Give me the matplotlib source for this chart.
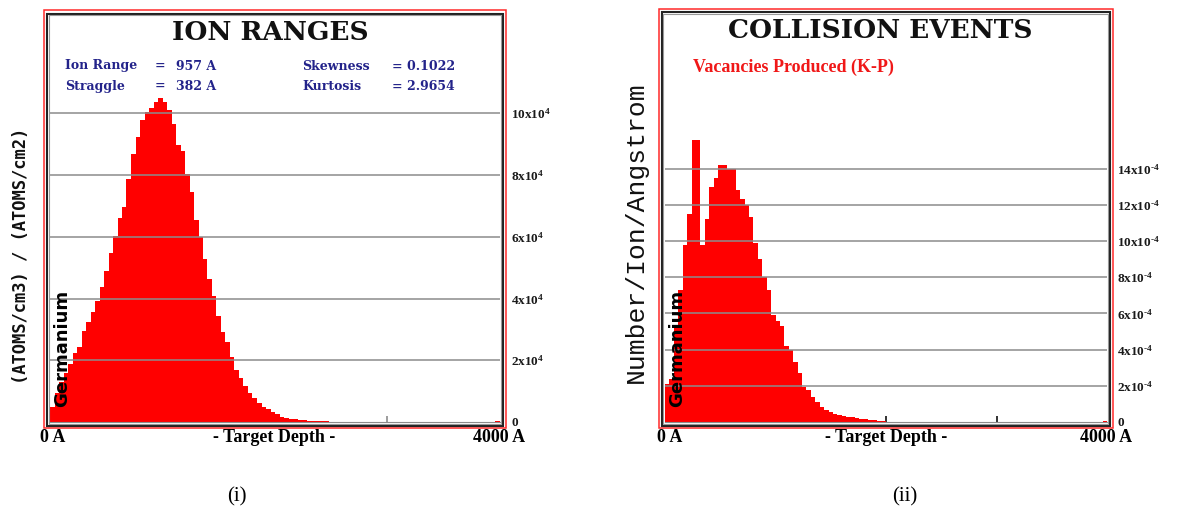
import matplotlib
matplotlib.use("Agg")
import matplotlib.pyplot as plt
from matplotlib.patches import Rectangle
import numpy as np

W, H = 1182, 513
BIN = 40  # Angstrom per histogram bin

# ion range histogram, (atoms/cm3)/(atoms/cm2) in units of 1e4, 40 A bins from 0 A
ion_vals = [0.47, 0.95, 1.31, 1.60, 1.87, 2.22, 2.44, 2.95, 3.23, 3.55,
            3.93, 4.38, 4.90, 5.47, 6.04, 6.61, 6.96, 7.88, 8.69, 9.23,
            9.77, 10.04, 10.18, 10.37, 10.48, 10.37, 10.12, 9.66, 8.96, 8.78,
            8.04, 7.45, 6.53, 5.98, 5.28, 4.63, 4.09, 3.44, 2.90, 2.58,
            2.09, 1.68, 1.44, 1.17, 0.95, 0.79, 0.63, 0.50, 0.41, 0.34,
            0.25, 0.17, 0.14, 0.10, 0.09, 0.06, 0.05, 0.04, 0.03, 0.03,
            0.02, 0.02]
ion_last = 0.03  # small count in the final bin (3960-4000 A)

# vacancies produced (K-P), number/ion/angstrom in units of 1e-4
vac_vals = [2.10, 2.40, 5.26, 7.30, 9.79, 11.5, 15.57, 15.57, 9.80, 11.2,
            13.0, 13.5, 14.2, 14.2, 14.0, 14.0, 12.8, 12.3, 12.0, 11.3,
            9.9, 9.0, 8.0, 7.3, 5.9, 5.6, 5.3, 4.2, 4.0, 3.3,
            2.7, 1.95, 1.75, 1.40, 1.10, 0.85, 0.65, 0.55, 0.45, 0.40,
            0.35, 0.28, 0.25, 0.20, 0.17, 0.15, 0.10, 0.09, 0.08, 0.03]
vac_last = 0.05

ion_ticks = [0, 2, 4, 6, 8, 10]
ion_ticklabels = ["0"] + [r"$\mathbf{%dx10^{4}}$" % v for v in ion_ticks[1:]]
vac_ticks = [0, 2, 4, 6, 8, 10, 12, 14]
vac_ticklabels = ["0"] + [r"$\mathbf{%dx10^{\text{-}4}}$" % v for v in vac_ticks[1:]]

stats_left = [("Ion Range", "=", "957 A"), ("Straggle", "=", "382 A")]
stats_right = [("Skewness", "= 0.1022"), ("Kurtosis", "= 2.9654")]

plt.rcParams["mathtext.fontset"] = "custom"
plt.rcParams["mathtext.rm"] = "Liberation Serif:bold"
plt.rcParams["mathtext.bf"] = "Liberation Serif:bold"

fig = plt.figure(figsize=(W / 100, H / 100), dpi=100)


def box(x0, y0, x1, y1):
    # pixel box (top-left origin) -> figure fraction rect
    return [x0 / W, 1 - y1 / H, (x1 - x0) / W, (y1 - y0) / H]


def ftext(x, y, s, **kw):
    fig.text(x / W, 1 - y / H, s, **kw)


def frame(x0, y0, x1, y1, color, lw):
    fig.add_artist(Rectangle((x0 / W, 1 - y1 / H), (x1 - x0) / W, (y1 - y0) / H,
                             transform=fig.transFigure, fill=False,
                             edgecolor=color, lw=lw, zorder=5))


def panel(rect, vals, last, ymax, ticks, ticklabels, tickcol, pad):
    ax = fig.add_axes(rect)
    edges = np.arange(len(vals)) * BIN
    ax.bar(edges, vals, width=BIN, align="edge", color="#ff0000", lw=0, zorder=2)
    ax.bar([4000 - BIN], [last], width=BIN, align="edge", color="#ff0000", lw=0, zorder=2)
    ax.hlines(ticks[1:], 0, 4000, colors="#8c8c8c", lw=1.1, zorder=3)
    ax.set_xlim(0, 4000)
    ax.set_ylim(0, ymax)
    for s in ["top", "left", "right"]:
        ax.spines[s].set_visible(False)
    ax.spines["bottom"].set_color("#8c8c8c")
    ax.set_xticks([1000, 2000, 3000])
    ax.tick_params(axis="x", direction="in", length=4, width=1.2,
                   color=tickcol, labelbottom=False)
    ax.yaxis.tick_right()
    ax.set_yticks(ticks)
    ax.set_yticklabels(ticklabels, fontsize=9.5, color="#1a1a1a",
                       family="Liberation Serif", weight="bold")
    ax.tick_params(axis="y", length=0, pad=pad)
    ax.set_facecolor("none")
    return ax


# ---- (i) ion ranges ----
panel(box(50, 14, 500, 422), ion_vals, ion_last, (422 - 14) / 30.87,
      ion_ticks, ion_ticklabels, "#8c8c8c", 8)
frame(43.5, 10, 506.5, 428, "#ff2a2a", 1.1)
frame(47, 13.5, 503, 425.5, "#222222", 1.5)
frame(48.8, 15.3, 501.2, 423.7, "#999999", 0.8)
ftext(270, 32, "ION RANGES", family="DejaVu Serif", weight="bold", fontsize=19,
      ha="center", va="center", color="#111111")
for row, (a, b, c) in enumerate(stats_left):
    y = 66 + row * 20.5
    ftext(65, y, a, family="DejaVu Serif", weight="bold", fontsize=9, color="#23238a", va="center")
    ftext(155, y, b, family="DejaVu Serif", weight="bold", fontsize=9, color="#23238a", va="center")
    ftext(176, y, c, family="DejaVu Serif", weight="bold", fontsize=9, color="#23238a", va="center")
for row, (a, b) in enumerate(stats_right):
    y = 66 + row * 20.5
    ftext(302, y, a, family="DejaVu Serif", weight="bold", fontsize=9, color="#23238a", va="center")
    ftext(392, y, b, family="DejaVu Serif", weight="bold", fontsize=9, color="#23238a", va="center")
ftext(62, 407, "Germanium", family="DejaVu Sans", weight="bold", fontsize=13,
      rotation=90, ha="center", va="bottom", color="black")
ftext(21.5, 256, "(ATOMS/cm3) / (ATOMS/cm2)", family="DejaVu Sans Mono", weight="bold",
      fontsize=12.3, rotation=90, ha="center", va="center", color="#111111")
ftext(40, 438, "0 A", family="Liberation Serif", weight="bold", fontsize=13, va="center")
ftext(274, 438, "- Target Depth -", family="Liberation Serif", weight="bold", fontsize=13,
      ha="center", va="center")
ftext(525, 438, "4000 A", family="Liberation Serif", weight="bold", fontsize=13,
      ha="right", va="center")
ftext(237, 497, "(i)", family="Liberation Serif", fontsize=15, ha="center", va="center")

# ---- (ii) collision events ----
panel(box(665, 12, 1107, 422), vac_vals, vac_last, (422 - 12) / 18.1,
      vac_ticks, vac_ticklabels, "#111111", 7.5)
frame(658.5, 9, 1112.5, 428, "#ff2a2a", 1.1)
frame(661.5, 12, 1109.5, 425.5, "#222222", 1.5)
frame(663.3, 13.8, 1107.7, 423.7, "#999999", 0.8)
ftext(880, 30, "COLLISION EVENTS", family="DejaVu Serif", weight="bold", fontsize=19,
      ha="center", va="center", color="#111111")
ftext(693, 67, "Vacancies Produced (K-P)", family="Liberation Serif", weight="bold",
      fontsize=13, color="#f01818", va="center")
ftext(677, 407, "Germanium", family="DejaVu Sans", weight="bold", fontsize=13,
      rotation=90, ha="center", va="bottom", color="black")
ftext(636, 232, "Number/Ion/Angstrom", family="Liberation Mono", fontsize=19,
      rotation=90, ha="center", va="center", color="#111111")
ftext(657, 438, "0 A", family="Liberation Serif", weight="bold", fontsize=13, va="center")
ftext(886, 438, "- Target Depth -", family="Liberation Serif", weight="bold", fontsize=13,
      ha="center", va="center")
ftext(1132, 438, "4000 A", family="Liberation Serif", weight="bold", fontsize=13,
      ha="right", va="center")
ftext(905, 497, "(ii)", family="Liberation Serif", fontsize=15, ha="center", va="center")

fig.savefig("out.png", dpi=100)
